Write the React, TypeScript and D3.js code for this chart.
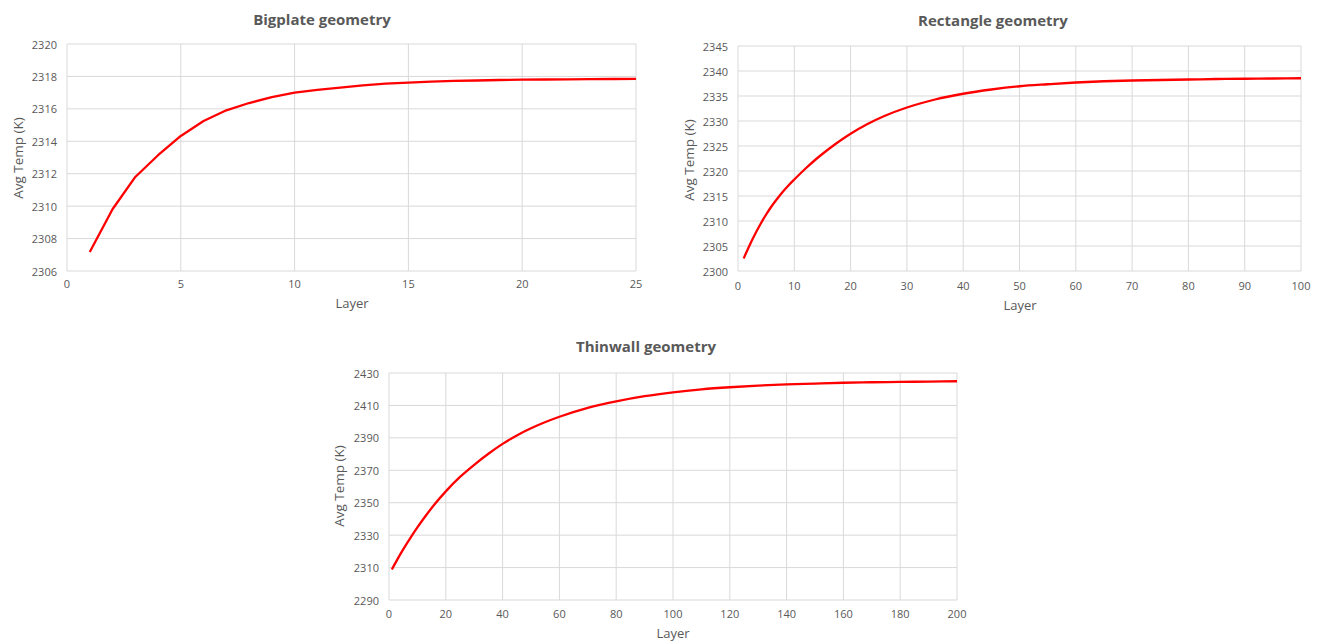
import React from "react";
import * as d3 from "d3";

// Bigplate geometry: average temperature per layer
const bigplateLayers = [1, 2, 3, 4, 5, 6, 7, 8, 9, 10, 11, 12, 13, 14, 15, 16, 17, 18, 19, 20, 21, 22, 23, 24, 25];
const bigplateTemps = [
  2307.17, 2309.81, 2311.8, 2313.14, 2314.33, 2315.25, 2315.91, 2316.36, 2316.73, 2317.0,
  2317.17, 2317.31, 2317.45, 2317.55, 2317.62, 2317.68, 2317.72, 2317.75, 2317.78, 2317.8,
  2317.81, 2317.82, 2317.83, 2317.84, 2317.85,
];

// Rectangle geometry
const rectangleLayers = [1, 2, 3, 4, 5, 6, 7, 8, 9, 10, 12, 14, 16, 18, 20, 23, 26, 30, 35, 40, 45, 50, 55, 60, 65, 70, 75, 80, 85, 90, 95, 100];
const rectangleTemps = [
  2302.5, 2305.0, 2307.3, 2309.4, 2311.3, 2313.0, 2314.5, 2315.9, 2317.15, 2318.3,
  2320.5, 2322.5, 2324.3, 2325.95, 2327.45, 2329.4, 2331.0, 2332.7, 2334.3, 2335.45,
  2336.3, 2336.95, 2337.35, 2337.7, 2337.95, 2338.1, 2338.2, 2338.3, 2338.4, 2338.45,
  2338.5, 2338.55,
];

// Thinwall geometry
const thinwallLayers = [1, 3, 5, 8, 10, 13, 16, 20, 25, 30, 35, 40, 45, 50, 60, 70, 80, 90, 100, 110, 120, 130, 140, 150, 160, 170, 180, 190, 200];
const thinwallTemps = [
  2308.8, 2315.2, 2321.2, 2329.6, 2334.8, 2342.1, 2348.9, 2357.0, 2365.9, 2373.4,
  2380.2, 2386.3, 2391.5, 2395.9, 2403.0, 2408.5, 2412.5, 2415.7, 2418.1, 2419.9,
  2421.2, 2422.2, 2423.0, 2423.5, 2424.0, 2424.3, 2424.5, 2424.7, 2424.9,
];

// Axis tick values
const bigplateXTicks = [0, 5, 10, 15, 20, 25];
const bigplateYTicks = [2306, 2308, 2310, 2312, 2314, 2316, 2318, 2320];
const rectangleXTicks = [0, 10, 20, 30, 40, 50, 60, 70, 80, 90, 100];
const rectangleYTicks = [2300, 2305, 2310, 2315, 2320, 2325, 2330, 2335, 2340, 2345];
const thinwallXTicks = [0, 20, 40, 60, 80, 100, 120, 140, 160, 180, 200];
const thinwallYTicks = [2290, 2310, 2330, 2350, 2370, 2390, 2410, 2430];

const TEXT = "#595959";
const GRID = "#d9d9d9";
const FONT = "'Open Sans', 'Liberation Sans', sans-serif";

type PanelProps = {
  title: string;
  layers: number[];
  temps: number[];
  xTicks: number[];
  yTicks: number[];
  box: { left: number; right: number; top: number; bottom: number };
  titlePos: [number, number];
  xTitlePos: [number, number];
  yTitlePos: [number, number];
  xTickBaseline: number;
  curved: boolean;
};

function Panel(p: PanelProps) {
  const { left, right, top, bottom } = p.box;
  const x = d3
    .scaleLinear()
    .domain([p.xTicks[0], p.xTicks[p.xTicks.length - 1]])
    .range([left, right]);
  const y = d3
    .scaleLinear()
    .domain([p.yTicks[0], p.yTicks[p.yTicks.length - 1]])
    .range([bottom, top]);

  const line = d3
    .line<number>()
    .x((_, i) => x(p.layers[i]))
    .y((d) => y(d))
    .curve(p.curved ? d3.curveMonotoneX : d3.curveLinear);

  return (
    <g>
      <text
        x={p.titlePos[0]}
        y={p.titlePos[1]}
        textAnchor="middle"
        fontSize={15}
        fontWeight={700}
        fill={TEXT}
      >
        {p.title}
      </text>
      {p.yTicks.map((t) => (
        <line key={"gy" + t} x1={left} x2={right} y1={y(t)} y2={y(t)} stroke={GRID} strokeWidth={1} />
      ))}
      {p.xTicks.map((t) => (
        <line key={"gx" + t} x1={x(t)} x2={x(t)} y1={top} y2={bottom} stroke={GRID} strokeWidth={1} />
      ))}
      {p.yTicks.map((t) => (
        <text
          key={"ty" + t}
          x={left - 10}
          y={y(t)}
          textAnchor="end"
          dominantBaseline="central"
          fontSize={11}
          fill={TEXT}
        >
          {t}
        </text>
      ))}
      {p.xTicks.map((t) => (
        <text key={"tx" + t} x={x(t)} y={p.xTickBaseline} textAnchor="middle" fontSize={11} fill={TEXT}>
          {t}
        </text>
      ))}
      <path d={line(p.temps) || ""} fill="none" stroke="#ff0000" strokeWidth={2.3} strokeLinejoin="round" />
      <text x={p.xTitlePos[0]} y={p.xTitlePos[1]} textAnchor="middle" fontSize={13} fill={TEXT}>
        Layer
      </text>
      <text
        transform={`translate(${p.yTitlePos[0]},${p.yTitlePos[1]}) rotate(-90)`}
        textAnchor="middle"
        dominantBaseline="central"
        fontSize={13.5}
        fill={TEXT}
      >
        Avg Temp (K)
      </text>
    </g>
  );
}

export default function App() {
  return (
    <svg
      width={1322}
      height={642}
      style={{ position: "absolute", left: 0, top: 0, background: "#ffffff" }}
      fontFamily={FONT}
    >
      <rect width={1322} height={642} fill="#ffffff" />
      <Panel
        title="Bigplate geometry"
        layers={bigplateLayers}
        temps={bigplateTemps}
        xTicks={bigplateXTicks}
        yTicks={bigplateYTicks}
        box={{ left: 67, right: 636, top: 44, bottom: 271 }}
        titlePos={[322, 25]}
        xTitlePos={[352, 308]}
        yTitlePos={[17.5, 158]}
        xTickBaseline={288}
        curved={false}
      />
      <Panel
        title="Rectangle geometry"
        layers={rectangleLayers}
        temps={rectangleTemps}
        xTicks={rectangleXTicks}
        yTicks={rectangleYTicks}
        box={{ left: 738, right: 1301, top: 46, bottom: 271 }}
        titlePos={[993, 26]}
        xTitlePos={[1020, 310]}
        yTitlePos={[688.5, 160]}
        xTickBaseline={290}
        curved={true}
      />
      <Panel
        title="Thinwall geometry"
        layers={thinwallLayers}
        temps={thinwallTemps}
        xTicks={thinwallXTicks}
        yTicks={thinwallYTicks}
        box={{ left: 389, right: 957, top: 373, bottom: 600 }}
        titlePos={[646, 352]}
        xTitlePos={[673, 638]}
        yTitlePos={[339, 486]}
        xTickBaseline={618}
        curved={true}
      />
    </svg>
  );
}
